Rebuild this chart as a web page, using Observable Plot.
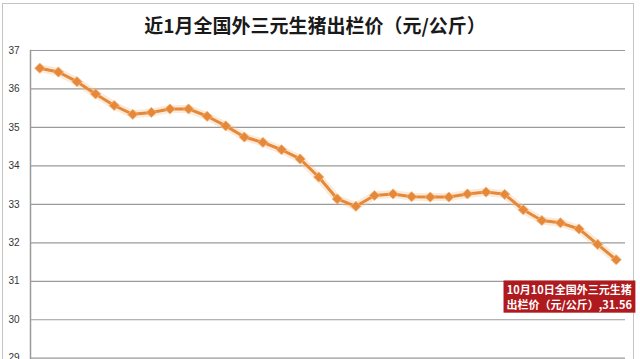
<!DOCTYPE html>
<html>
<head>
<meta charset="utf-8">
<script src="https://cdn.jsdelivr.net/npm/d3@7"></script>
<script src="https://cdn.jsdelivr.net/npm/@observablehq/plot@0.6"></script>
<style>
  body { margin: 0; background: #fff; }
  #wrap { position: relative; width: 640px; height: 359px; overflow: hidden; background: #fff; }
  #border { position: absolute; left: 2px; top: 3px; width: 632px; height: 400px; border: 1px solid #c4c4c4; box-sizing: border-box; }
  #title { position: absolute; top: 15px; left: 0; width: 630px; text-align: center;
           font-family: "Noto Sans CJK SC", sans-serif; font-size: 19px; line-height: 19px;
           font-weight: 700; color: #1a1a1a; }
  #chart { position: absolute; top: 40px; left: 0; }
</style>
</head>
<body>
<div id="wrap">
  <div id="border"></div>
  <div id="title">近1月全国外三元生猪出栏价（元/公斤）</div>
  <div id="chart"></div>
</div>
<script>
const dates = ["9月9日","9月10日","9月11日","9月12日","9月13日","9月14日","9月15日","9月16日",
  "9月17日","9月18日","9月19日","9月20日","9月21日","9月22日","9月23日","9月24日",
  "9月25日","9月26日","9月27日","9月28日","9月29日","9月30日","10月1日","10月2日",
  "10月3日","10月4日","10月5日","10月6日","10月7日","10月8日","10月9日","10月10日"];
const prices = [36.54,36.44,36.19,35.87,35.57,35.34,35.39,35.48,35.48,35.29,35.04,34.75,34.61,34.42,34.18,33.71,
  33.14,32.95,33.23,33.27,33.20,33.19,33.19,33.27,33.32,33.26,32.86,32.58,32.52,32.36,31.96,31.56];
const yTicks = [29,30,31,32,33,34,35,36,37];
const seriesName = "全国外三元生猪出栏价（元/公斤）";
const lastLabelDate = "10月10日";

const data = dates.map((d, i) => ({date: d, price: prices[i]}));
const last = data[data.length - 1];
const labelData = [{date: last.date, price: last.price,
  text: lastLabelDate + seriesName.slice(0, 7) + "\n" + seriesName.slice(7) + "," + last.price.toFixed(2)}];

const orange = "#E5883A";

const plot = Plot.plot({
  width: 640,
  height: 319,
  marginTop: 10,
  marginBottom: 1.3,
  marginLeft: 30,
  marginRight: 15,
  style: {background: "transparent", overflow: "visible"},
  x: {type: "point", domain: dates, padding: 0.5, round: false, axis: null},
  y: {domain: [29, 37], ticks: yTicks},
  marks: [
    Plot.gridY(yTicks, {stroke: "#9a9a9a", strokeOpacity: 1, strokeWidth: 1.2}),
    Plot.frame({anchor: "left", stroke: "#9a9a9a", strokeWidth: 1.5}),
    Plot.axisY(yTicks, {tickSize: 0, tickPadding: 11, fontSize: 10, fill: "#333",
      fontFamily: "Liberation Sans, sans-serif", label: null}),
    Plot.line(data, {x: "date", y: "price", stroke: "#F6C28E", strokeWidth: 8, strokeOpacity: 0.35}),
    Plot.line(data, {x: "date", y: "price", stroke: orange, strokeWidth: 3}),
    Plot.dot(data, {x: "date", y: "price", symbol: "diamond2", r: 4.6, fill: orange, stroke: "#F3B57A", strokeWidth: 0.8}),
    Plot.text(labelData, {x: "date", y: "price", text: "text", dx: -47, dy: 37,
      fill: "white", fontSize: 11, fontWeight: "bold", lineHeight: 1.38,
      fontFamily: "Noto Sans CJK SC, sans-serif", textAnchor: "middle", lineAnchor: "middle",
      className: "anno"})
  ]
});
document.getElementById("chart").appendChild(plot);

// background box behind the annotation text, sized from the text itself
const t = plot.querySelector(".anno text");
if (t) {
  const b = t.getBBox();
  const rect = document.createElementNS("http://www.w3.org/2000/svg", "rect");
  rect.setAttribute("x", b.x - 3);
  rect.setAttribute("y", b.y - 0.5);
  rect.setAttribute("width", b.width + 6);
  rect.setAttribute("height", b.height + 1);
  rect.setAttribute("fill", "#AE1A1E");
  if (t.getAttribute("transform")) rect.setAttribute("transform", t.getAttribute("transform"));
  t.parentNode.insertBefore(rect, t);
}
</script>
</body>
</html>
